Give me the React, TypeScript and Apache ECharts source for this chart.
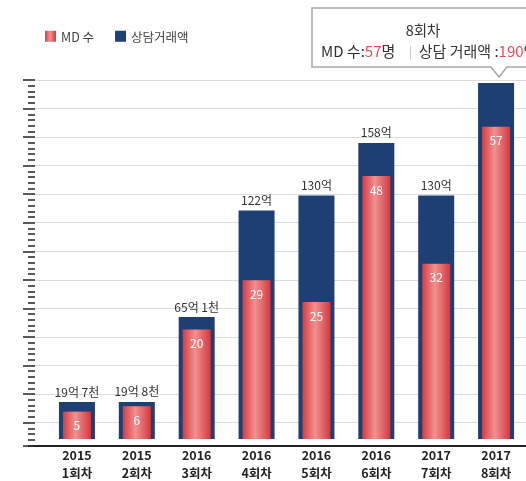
import React, { useEffect, useRef } from 'react';
import * as echarts from 'echarts';

const years = ['2015', '2015', '2016', '2016', '2016', '2016', '2017', '2017'];
const rounds = ['1회차', '2회차', '3회차', '4회차', '5회차', '6회차', '7회차', '8회차'];
const mdCount = [5, 6, 20, 29, 25, 48, 32, 57];
const tradeAmount = [19.7, 19.8, 65.1, 122, 130, 158, 130, 190];
const tradeLabels = ['19억 7천', '19억 8천', '65억 1천', '122억', '130억', '158억', '130억', ''];
const legendNames = ['MD 수', '상담거래액'];
const tipTitle = '8회차';
const tipMd = 57;
const tipTrade = 190;

export default function App() {
  const ref = useRef<HTMLDivElement>(null);
  useEffect(() => {
    const chart = echarts.init(ref.current!, null, { renderer: 'svg' });
    const categories = years.map((y, i) => `${y}\n${rounds[i]}`);
    const font = '"Noto Sans CJK KR", "Noto Sans", sans-serif';
    const red = new echarts.graphic.LinearGradient(0, 0, 1, 0, [
      { offset: 0, color: '#d63c43' },
      { offset: 0.45, color: '#f19190' },
      { offset: 1, color: '#d4383f' },
    ]);
    chart.setOption({
      animation: false,
      textStyle: { fontFamily: font },
      legend: {
        left: 40,
        top: 25,
        icon: 'rect',
        itemWidth: 11,
        itemHeight: 11,
        itemGap: 21,
        textStyle: { fontSize: 12.5, color: '#444', fontFamily: font },
        data: legendNames,
      },
      grid: [
        { left: 47, width: 481, top: 83, bottom: 35 },
        { left: 35, right: 0, top: 80, bottom: 35 },
      ],
      xAxis: [
        {
          type: 'category',
          gridIndex: 0,
          data: categories,
          axisLine: { show: false },
          axisTick: { show: false },
          axisLabel: { fontSize: 12.5, fontWeight: 'bold', color: '#222', lineHeight: 18, margin: 6, fontFamily: font },
        },
        { type: 'category', gridIndex: 0, data: categories, show: false },
        {
          type: 'value',
          gridIndex: 1,
          min: 0,
          max: 1,
          axisLine: { show: true, onZero: false, lineStyle: { color: '#222', width: 2 } },
          axisTick: { show: false },
          axisLabel: { show: false },
          splitLine: { show: false },
        },
      ],
      yAxis: [
        { type: 'value', gridIndex: 0, min: 0, max: 190, show: false },
        { type: 'value', gridIndex: 0, min: 0, max: 65, show: false },
        {
          type: 'value',
          gridIndex: 1,
          inverse: true,
          min: 0,
          max: 64.1,
          interval: 5,
          axisLine: { show: false },
          axisLabel: { show: false },
          axisTick: { show: true, length: 12, lineStyle: { color: '#222', width: 1.5 } },
          minorTick: { show: true, splitNumber: 5, length: 7, lineStyle: { color: '#222', width: 1.5 } },
          splitLine: { show: true, lineStyle: { color: '#dcdcdc', width: 1 } },
        },
      ],
      series: [
        {
          name: '상담거래액',
          type: 'bar',
          xAxisIndex: 0,
          yAxisIndex: 0,
          data: tradeAmount,
          barWidth: 36,
          itemStyle: { color: '#1e3f74' },
          label: {
            show: true,
            position: 'top',
            distance: 5,
            fontSize: 12,
            color: '#333',
            fontFamily: font,
            formatter: (p: any) => tradeLabels[p.dataIndex],
          },
          z: 2,
        },
        {
          name: 'MD 수',
          type: 'bar',
          xAxisIndex: 1,
          yAxisIndex: 1,
          data: mdCount,
          barWidth: 28,
          itemStyle: { color: red },
          label: { show: true, position: 'insideTop', distance: 7, fontSize: 12, color: '#fff', fontFamily: font },
          z: 3,
        },
      ],
      graphic: [
        {
          type: 'polygon',
          z: 100,
          shape: { points: [[312, 8], [540, 8], [540, 67], [507, 67], [499, 77], [491, 67], [312, 67]] },
          style: { fill: '#fff', stroke: '#a8a8a8', lineWidth: 1.5 },
        },
        {
          type: 'text',
          z: 101,
          x: 423,
          y: 29,
          style: { text: tipTitle, fill: '#333', fontSize: 14.5, fontFamily: font, align: 'center', verticalAlign: 'middle' },
        },
        {
          type: 'text',
          z: 101,
          x: 321,
          y: 50,
          style: {
            text: `MD 수:{r|${tipMd}}명    {s||}  상담 거래액 :{r|${tipTrade}}억`,
            fill: '#333',
            fontSize: 15,
            fontFamily: font,
            verticalAlign: 'middle',
            rich: {
              r: { fill: '#e0505a', fontSize: 15, fontFamily: font },
              s: { fill: '#bbb', fontSize: 12, fontFamily: font },
            },
          },
        },
      ],
    });
    return () => chart.dispose();
  }, []);
  return <div ref={ref} style={{ position: 'fixed', left: 0, top: 0, width: 526, height: 481 }} />;
}
